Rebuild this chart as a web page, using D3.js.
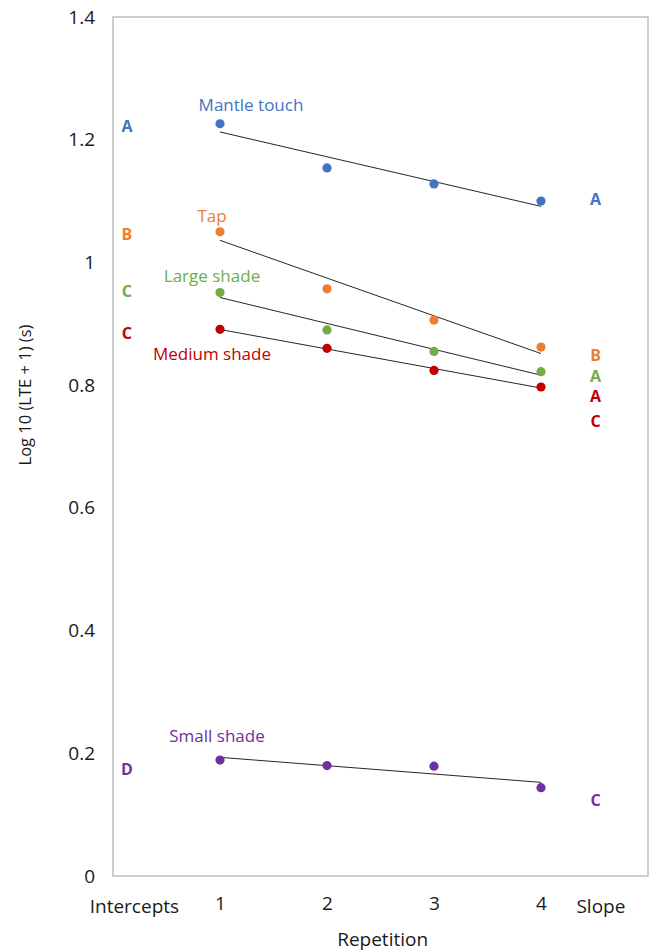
<!DOCTYPE html>
<html>
<head>
<meta charset="utf-8">
<script src="https://cdn.jsdelivr.net/npm/d3@7"></script>
<style>
  body { margin: 0; background: #fff; }
  text { font-family: "Open Sans", sans-serif; }
</style>
</head>
<body>
<svg id="chart" width="651" height="952"></svg>
<script>
// repetitions on the x axis
var repetitions = [1, 2, 3, 4];
var yTicks = [0, 0.2, 0.4, 0.6, 0.8, 1, 1.2, 1.4];

// mean log10(LTE + 1) per repetition
var mantleTouch = [1.226, 1.154, 1.128, 1.100];
var tap = [1.050, 0.957, 0.906, 0.862];
var largeShade = [0.951, 0.890, 0.855, 0.822];
var mediumShade = [0.891, 0.860, 0.824, 0.797];
var smallShade = [0.189, 0.180, 0.179, 0.144];

var seriesNames = ["Mantle touch", "Tap", "Large shade", "Medium shade", "Small shade"];
var seriesColors = ["#4472C4", "#ED7D31", "#70AD47", "#C00000", "#7030A0"];

// significance letters: [series index, letter, y value]
var interceptLetters = [
    [0, "A", 1.222], [1, "B", 1.046], [2, "C", 0.952], [3, "C", 0.884], [4, "D", 0.173]
];
var slopeLetters = [
    [0, "A", 1.102], [1, "B", 0.849], [2, "A", 0.815], [3, "A", 0.782], [3, "C", 0.741], [4, "C", 0.124]
];

var allSeries = [mantleTouch, tap, largeShade, mediumShade, smallShade];

// label offsets (px) from the first point of each series
var labelOffsets = [[31, -19], [-8, -16], [-8, -16], [-8, 25], [-3, -24]];

var margin = { top: 17, right: 3, bottom: 76, left: 113 };
var svg = d3.select("#chart");
var W = 651, H = 952;

var x = d3.scaleLinear().domain([0, 5]).range([margin.left, W - margin.right]);
var y = d3.scaleLinear().domain([0, 1.4]).range([H - margin.bottom, margin.top]);

// plot frame
svg.append("rect")
    .attr("x", x(0)).attr("y", y(1.4))
    .attr("width", x(5) - x(0)).attr("height", y(0) - y(1.4))
    .attr("fill", "none").attr("stroke", "#BFBFBF").attr("stroke-width", 1.5);

// y axis
var yAxis = svg.append("g")
    .attr("transform", "translate(" + x(0) + ",0)")
    .call(d3.axisLeft(y).tickValues(yTicks).tickSize(0).tickPadding(18)
        .tickFormat(function(d) { return d3.format("")(d); }));
yAxis.select(".domain").remove();
yAxis.selectAll("text").style("font-size", "19px").attr("fill", "#1a1a1a")
    .style("font-family", "Open Sans, sans-serif");

// x axis labels
var xAxis = svg.append("g")
    .attr("transform", "translate(0," + y(0) + ")")
    .call(d3.axisBottom(x).tickValues(repetitions).tickSize(0).tickPadding(21)
        .tickFormat(d3.format("d")));
xAxis.select(".domain").remove();
xAxis.selectAll("text").style("font-size", "19px").attr("fill", "#1a1a1a")
    .style("font-family", "Open Sans, sans-serif");

svg.append("text").attr("x", x(0.2)).attr("y", y(0) + 37)
    .attr("text-anchor", "middle").style("font-size", "19px").attr("fill", "#1a1a1a")
    .text("Intercepts");
svg.append("text").attr("x", x(4.56)).attr("y", y(0) + 37)
    .attr("text-anchor", "middle").style("font-size", "19px").attr("fill", "#1a1a1a")
    .text("Slope");

svg.append("text").attr("x", x(2.52)).attr("y", 946)
    .attr("text-anchor", "middle").style("font-size", "19px").attr("fill", "#1a1a1a")
    .text("Repetition");

svg.append("text")
    .attr("transform", "translate(31," + 395 + ") rotate(-90)")
    .attr("text-anchor", "middle").style("font-size", "16.5px").attr("fill", "#1a1a1a")
    .text("Log 10 (LTE + 1) (s)");

// linear trend per series (least squares)
function fit(vals) {
    var mx = d3.mean(repetitions), my = d3.mean(vals);
    var sxy = d3.sum(repetitions, function(r, i) { return (r - mx) * (vals[i] - my); });
    var sxx = d3.sum(repetitions, function(r) { return (r - mx) * (r - mx); });
    var b = sxy / sxx;
    return function(r) { return my + b * (r - mx); };
}

var line = d3.line()
    .x(function(d) { return x(d[0]); })
    .y(function(d) { return y(d[1]); });

allSeries.forEach(function(vals, si) {
    var f = fit(vals);
    var ends = [repetitions[0], repetitions[repetitions.length - 1]];
    svg.append("path")
        .attr("d", line(ends.map(function(r) { return [r, f(r)]; })))
        .attr("fill", "none").attr("stroke", "#262626").attr("stroke-width", 1);

    svg.selectAll(".pt" + si)
        .data(vals)
        .enter()
        .append("circle")
        .attr("cx", function(d, i) { return x(repetitions[i]); })
        .attr("cy", function(d) { return y(d); })
        .attr("r", 4.6)
        .attr("fill", seriesColors[si]);

    svg.append("text")
        .attr("x", x(repetitions[0]) + labelOffsets[si][0])
        .attr("y", y(vals[0]) + labelOffsets[si][1])
        .attr("text-anchor", "middle").attr("dy", "0.35em")
        .style("font-size", "17px").attr("fill", seriesColors[si])
        .text(seriesNames[si]);
});

function drawLetters(list, xPos) {
    svg.selectAll(null)
        .data(list)
        .enter()
        .append("text")
        .attr("x", x(xPos))
        .attr("y", function(d) { return y(d[2]); })
        .attr("dy", "0.35em")
        .attr("text-anchor", "middle")
        .style("font-size", "16px").style("font-weight", "bold")
        .attr("fill", function(d) { return seriesColors[d[0]]; })
        .text(function(d) { return d[1]; });
}
drawLetters(interceptLetters, 0.13);
drawLetters(slopeLetters, 4.51);
</script>
</body>
</html>
